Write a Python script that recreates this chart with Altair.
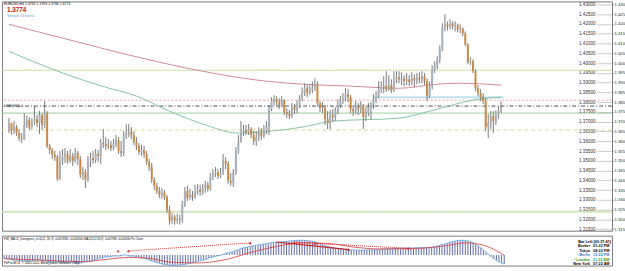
import json
import altair as alt
import pandas as pd

# ---------------- data ----------------
first_open = 1.3652
closes = [
    1.3693, 1.3652, 1.3672, 1.3642, 1.3616, 1.3611, 1.3683, 1.3708, 1.3672, 1.3698,
    1.3713, 1.3693, 1.3734, 1.3683, 1.3744, 1.3576, 1.3555, 1.3530, 1.3519, 1.3407,
    1.3499, 1.3525, 1.3535, 1.3499, 1.3525, 1.3499, 1.3540, 1.3509, 1.3428, 1.3443,
    1.3402, 1.3499, 1.3514, 1.3504, 1.3535, 1.3525, 1.3591, 1.3586, 1.3576, 1.3581,
    1.3565, 1.3586, 1.3606, 1.3550, 1.3540, 1.3627, 1.3642, 1.3647, 1.3632, 1.3596,
    1.3576, 1.3545, 1.3555, 1.3535, 1.3494, 1.3468, 1.3402, 1.3372, 1.3346, 1.3326,
    1.3336, 1.3315, 1.3249, 1.3193, 1.3213, 1.3193, 1.3203, 1.3198, 1.3275, 1.3346,
    1.3310, 1.3326, 1.3315, 1.3341, 1.3351, 1.3341, 1.3361, 1.3377, 1.3356, 1.3417,
    1.3433, 1.3443, 1.3423, 1.3438, 1.3499, 1.3484, 1.3397, 1.3387, 1.3438, 1.3550,
    1.3601, 1.3647, 1.3657, 1.3647, 1.3662, 1.3632, 1.3601, 1.3621, 1.3642, 1.3627,
    1.3652, 1.3672, 1.3764, 1.3805, 1.3815, 1.3800, 1.3785, 1.3810, 1.3749, 1.3739,
    1.3729, 1.3774, 1.3759, 1.3785, 1.3820, 1.3851, 1.3871, 1.3846, 1.3866, 1.3876,
    1.3892, 1.3795, 1.3769, 1.3774, 1.3713, 1.3693, 1.3734, 1.3723, 1.3754, 1.3785,
    1.3805, 1.3820, 1.3841, 1.3825, 1.3764, 1.3754, 1.3774, 1.3764, 1.3785, 1.3723,
    1.3744, 1.3774, 1.3785, 1.3815, 1.3831, 1.3866, 1.3876, 1.3882, 1.3866, 1.3887,
    1.3861, 1.3912, 1.3927, 1.3917, 1.3922, 1.3907, 1.3917, 1.3902, 1.3922, 1.3912,
    1.3927, 1.3917, 1.3933, 1.3907, 1.3831, 1.3882, 1.3968, 1.3984, 1.4019, 1.4070,
    1.4177, 1.4198, 1.4188, 1.4203, 1.4188, 1.4193, 1.4172, 1.4177, 1.4152, 1.4096,
    1.4004, 1.4009, 1.3958, 1.3871, 1.3846, 1.3825, 1.3805, 1.3672, 1.3693, 1.3729,
    1.3703, 1.3734, 1.3754, 1.3774,
]
highs = [
    1.3718, 1.3678, 1.3703, 1.3683, 1.3662, 1.3642, 1.3744, 1.3729, 1.3723, 1.3718,
    1.3780, 1.3734, 1.3754, 1.3744, 1.3805, 1.3754, 1.3586, 1.3565, 1.3550, 1.3530,
    1.3550, 1.3560, 1.3565, 1.3550, 1.3560, 1.3540, 1.3565, 1.3550, 1.3525, 1.3468,
    1.3458, 1.3525, 1.3540, 1.3550, 1.3560, 1.3555, 1.3611, 1.3662, 1.3621, 1.3611,
    1.3601, 1.3611, 1.3632, 1.3621, 1.3601, 1.3652, 1.3688, 1.3688, 1.3672, 1.3652,
    1.3621, 1.3591, 1.3581, 1.3576, 1.3550, 1.3509, 1.3489, 1.3417, 1.3387, 1.3366,
    1.3361, 1.3351, 1.3326, 1.3270, 1.3234, 1.3224, 1.3229, 1.3224, 1.3295, 1.3366,
    1.3372, 1.3356, 1.3346, 1.3377, 1.3382, 1.3377, 1.3382, 1.3397, 1.3392, 1.3438,
    1.3458, 1.3468, 1.3458, 1.3463, 1.3535, 1.3519, 1.3499, 1.3438, 1.3458, 1.3570,
    1.3632, 1.3703, 1.3683, 1.3683, 1.3688, 1.3672, 1.3652, 1.3652, 1.3672, 1.3667,
    1.3683, 1.3703, 1.3785, 1.3825, 1.3836, 1.3831, 1.3820, 1.3831, 1.3815, 1.3769,
    1.3759, 1.3795, 1.3790, 1.3810, 1.3836, 1.3876, 1.3897, 1.3887, 1.3887, 1.3907,
    1.3922, 1.3907, 1.3805, 1.3800, 1.3785, 1.3754, 1.3759, 1.3764, 1.3774, 1.3815,
    1.3831, 1.3846, 1.3871, 1.3866, 1.3836, 1.3785, 1.3805, 1.3795, 1.3805, 1.3790,
    1.3774, 1.3795, 1.3800, 1.3841, 1.3856, 1.3907, 1.3907, 1.3933, 1.3958, 1.3938,
    1.3917, 1.3958, 1.3958, 1.3958, 1.3953, 1.3938, 1.3948, 1.3938, 1.3953, 1.3943,
    1.3948, 1.3953, 1.3958, 1.3948, 1.3922, 1.3907, 1.3989, 1.4009, 1.4035, 1.4091,
    1.4203, 1.4249, 1.4213, 1.4223, 1.4213, 1.4213, 1.4203, 1.4198, 1.4182, 1.4162,
    1.4101, 1.4029, 1.4019, 1.3968, 1.3887, 1.3866, 1.3846, 1.3820, 1.3739, 1.3754,
    1.3754, 1.3759, 1.3780, 1.3805,
]
lows = [
    1.3642, 1.3632, 1.3637, 1.3627, 1.3601, 1.3591, 1.3606, 1.3667, 1.3657, 1.3662,
    1.3683, 1.3672, 1.3637, 1.3657, 1.3667, 1.3565, 1.3535, 1.3509, 1.3499, 1.3397,
    1.3402, 1.3479, 1.3489, 1.3484, 1.3489, 1.3474, 1.3489, 1.3479, 1.3412, 1.3402,
    1.3361, 1.3392, 1.3468, 1.3484, 1.3489, 1.3494, 1.3484, 1.3565, 1.3555, 1.3560,
    1.3550, 1.3555, 1.3570, 1.3535, 1.3519, 1.3525, 1.3611, 1.3621, 1.3611, 1.3581,
    1.3555, 1.3530, 1.3525, 1.3514, 1.3479, 1.3448, 1.3387, 1.3351, 1.3331, 1.3310,
    1.3305, 1.3300, 1.3234, 1.3173, 1.3178, 1.3173, 1.3178, 1.3173, 1.3183, 1.3264,
    1.3295, 1.3300, 1.3295, 1.3305, 1.3326, 1.3321, 1.3326, 1.3336, 1.3341, 1.3346,
    1.3402, 1.3417, 1.3407, 1.3412, 1.3428, 1.3458, 1.3382, 1.3372, 1.3366, 1.3428,
    1.3535, 1.3591, 1.3627, 1.3632, 1.3632, 1.3616, 1.3581, 1.3576, 1.3601, 1.3606,
    1.3616, 1.3637, 1.3632, 1.3754, 1.3785, 1.3785, 1.3764, 1.3774, 1.3734, 1.3718,
    1.3713, 1.3718, 1.3739, 1.3744, 1.3769, 1.3805, 1.3831, 1.3825, 1.3836, 1.3846,
    1.3856, 1.3780, 1.3749, 1.3744, 1.3683, 1.3662, 1.3662, 1.3698, 1.3703, 1.3739,
    1.3769, 1.3790, 1.3805, 1.3800, 1.3744, 1.3729, 1.3739, 1.3734, 1.3744, 1.3662,
    1.3703, 1.3729, 1.3713, 1.3764, 1.3795, 1.3820, 1.3846, 1.3846, 1.3851, 1.3856,
    1.3846, 1.3851, 1.3897, 1.3897, 1.3887, 1.3882, 1.3887, 1.3882, 1.3887, 1.3876,
    1.3892, 1.3897, 1.3897, 1.3887, 1.3805, 1.3820, 1.3866, 1.3948, 1.3968, 1.3999,
    1.4060, 1.4162, 1.4167, 1.4172, 1.4172, 1.4162, 1.4157, 1.4152, 1.4137, 1.4086,
    1.3994, 1.3989, 1.3948, 1.3856, 1.3831, 1.3805, 1.3790, 1.3652, 1.3616, 1.3662,
    1.3642, 1.3683, 1.3713, 1.3744,
]

red_ma_bar = [0, 26, 49, 76, 101, 115, 134, 153, 168, 176, 193]
red_ma_val = [1.4198, 1.4111, 1.4035, 1.3958, 1.3907, 1.3892, 1.3882, 1.3871, 1.3892, 1.3897, 1.3887]
green_ma_bar = [0, 15, 28, 38, 50, 63, 76, 90, 103, 115, 127, 153, 165, 184, 193]
green_ma_val = [1.4060, 1.3979, 1.3917, 1.3876, 1.3831, 1.3754, 1.3688, 1.3642, 1.3652, 1.3672,
                1.3703, 1.3718, 1.3754, 1.3815, 1.3825]

level_prices = [1.3963, 1.3810, 1.3780, 1.3744, 1.3657, 1.3239]
level_colors = ["#c6dc9c", "#eea4a4", "#4a4a66", "#94ca94", "#dada94", "#d2e6c0"]
level_dashes = [[1, 0], [2, 2], [4, 2, 1, 2], [1, 0], [4, 3], [1, 0]]
level_widths = [1, 1, 1, 1, 1, 2]
level_tag = "LMAS(H1)Lvl"

zone_bars = [143, 194]
zone_price = 1.3825

price_ticks = [1.430, 1.425, 1.420, 1.415, 1.410, 1.405, 1.400, 1.395, 1.390, 1.385, 1.380, 1.375,
               1.370, 1.365, 1.360, 1.355, 1.350, 1.345, 1.340, 1.335, 1.330, 1.325, 1.320, 1.315]

time_tick_bars = [0, 8, 16, 24, 32, 40, 48, 56, 64, 72, 80, 88, 96, 104, 112, 120, 128, 136,
                  144, 152, 160, 168, 176, 184, 192]
time_labels = ["19 Sep 2011", "20 Sep 16:00", "22 Sep 00:00", "23 Sep 08:00", "26 Sep 16:00",
               "28 Sep 00:00", "29 Sep 08:00", "30 Sep 16:00", "4 Oct 00:00", "5 Oct 08:00",
               "6 Oct 16:00", "10 Oct 00:00", "11 Oct 08:00", "12 Oct 16:00", "14 Oct 00:00",
               "17 Oct 08:00", "18 Oct 16:00", "20 Oct 00:00", "21 Oct 08:00", "24 Oct 16:00",
               "26 Oct 00:00", "27 Oct 08:00", "28 Oct 16:00", "1 Nov 00:00", "2 Nov 08:00"]

macd_hist = [
    -0.0025, -0.0033, -0.0033, -0.0041, -0.0041, -0.0041, -0.0049, -0.0049,
    -0.0049, -0.0049, -0.0049, -0.0049, -0.0041, -0.0041, -0.0041, -0.0049, -0.0049, -0.0057, -0.0057, -0.0057, -0.0057, -0.0057, -0.0057,
    -0.0057, -0.0057, -0.0057, -0.0057, -0.0057, -0.0066, -0.0066, -0.0066, -0.0057, -0.0057, -0.0049, -0.0049, -0.0041, -0.0033, -0.0025,
    -0.0025, -0.0016, -0.0016, -0.0016, -0.0008, -0.0008, -0.0008, -0.0008, 0.0, 0.0, -0.0008, -0.0008, -0.0008, -0.0016, -0.0016,
    -0.0025, -0.0025, -0.0033, -0.0041, -0.0049, -0.0057, -0.0062, -0.0068, -0.0074, -0.0078, -0.0082, -0.0085, -0.0086, -0.0086, -0.0085,
    -0.0082, -0.0080, -0.0076, -0.0072, -0.0068, -0.0062, -0.0057, -0.0049, -0.0045, -0.0041, -0.0033, -0.0025, -0.0020, -0.0016, -0.0008,
    -0.0005, 0.0, 0.0008, 0.0016, 0.0018, 0.0025, 0.0033, 0.0041, 0.0049, 0.0057, 0.0062, 0.0066, 0.0072, 0.0074, 0.0080,
    0.0082, 0.0086, 0.0090, 0.0092, 0.0096, 0.0100, 0.0102, 0.0104, 0.0106, 0.0108, 0.0110, 0.0112, 0.0114, 0.0116, 0.0118,
    0.0120, 0.0121, 0.0122, 0.0120, 0.0118, 0.0115, 0.0112, 0.0108, 0.0100, 0.0092, 0.0084, 0.0076, 0.0070, 0.0064, 0.0060,
    0.0056, 0.0052, 0.0050, 0.0046, 0.0044, 0.0042, 0.0042, 0.0041, 0.0041, 0.0040, 0.0040, 0.0041, 0.0041, 0.0042, 0.0042,
    0.0043, 0.0044, 0.0045, 0.0047, 0.0048, 0.0050, 0.0050, 0.0051, 0.0053, 0.0055, 0.0056, 0.0057, 0.0057, 0.0058, 0.0058,
    0.0058, 0.0059, 0.0059, 0.0060, 0.0060, 0.0061, 0.0062, 0.0064, 0.0068, 0.0072, 0.0078, 0.0084, 0.0090, 0.0097, 0.0104,
    0.0110, 0.0114, 0.0118, 0.0120, 0.0121, 0.0120, 0.0116, 0.0110, 0.0100, 0.0088, 0.0074, 0.0058, 0.0040, 0.0022, 0.0004,
    -0.0014, -0.0030, -0.0044, -0.0056, -0.0066, -0.0075,
]
signal_bar = [0, 18, 30, 40, 48, 55, 65, 75, 85, 95, 105, 115, 125, 135, 145, 160, 170, 178, 185, 190, 193]
signal_val = [-0.0030, -0.0045, -0.0055, -0.0035, -0.0020, -0.0025, -0.0060, -0.0065, -0.0040, 0.0020,
              0.0070, 0.0100, 0.0095, 0.0065, 0.0050, 0.0055, 0.0075, 0.0100, 0.0080, 0.0035, -0.0002]
marker_bar = [44, 48, 95, 112, 120, 133, 156]
marker_val = [0.0033, 0.0033, 0.0100, 0.0105, 0.0095, 0.0045, 0.0055]
div_seg = ["a", "a", "b", "b"]
div_bar = [48, 95, 112, 156]
div_val = [0.0033, 0.0100, 0.0105, 0.0055]
solid_div_bar = [105, 133]
solid_div_val = [0.0107, 0.0045]

header_text = "EURUSD,H4  1.3782 1.3783 1.3768 1.3774"
price_text = "1.3774"
spread_text = "Spread: 16 points."
macd_title = ("FiW_MACD_Divergence_v1.0(12, 26, 9) -0.0074965 -0.0002000  "
              "MACD(12,26,9) -0.007396 -0.000200  Prc Close")
copyright_text = "FxPro MT4, \u00a9 2001-2011 MetaQuotes Software Corp."
info_names = ["Broker", "Tokyo", "\u2022 Berlin", "\u2022 London", "New York"]
info_times = ["01:22 PM", "08:22 PM", "12:22 PM", "11:22 AM", "07:22 AM"]
info_colors = ["#000000", "#000000", "#3a78c8", "#2ca02c", "#000000"]
bar_left_text = "Bar Left [03:37:41]"

# ---------------- tables ----------------
opens = [first_open] + closes[:-1]
df = pd.DataFrame({"i": list(range(len(closes))), "open": opens, "close": closes,
                   "high": highs, "low": lows})
df["high"] = df[["high", "open", "close"]].max(axis=1)
df["low"] = df[["low", "open", "close"]].min(axis=1)

mdf = pd.DataFrame({"i": list(range(len(macd_hist))), "hist": macd_hist})
mdf["zero"] = 0.0

FONT = "Liberation Sans"
W = 612
xs = alt.Scale(domain=[-0.77, 234.6], nice=False, zero=False)
ys = alt.Scale(domain=[1.31423, 1.43153], nice=False, zero=False)
ms = alt.Scale(domain=[-0.0087, 0.0159], nice=False, zero=False)
X = alt.X("i:Q", scale=xs, axis=None)

# ---------------- main price panel ----------------
layers = []
for k, (p, c, d, w) in enumerate(zip(level_prices, level_colors, level_dashes, level_widths)):
    ax = None
    if k == 0:
        ax = alt.Axis(orient="right", offset=-15, values=price_ticks, format=".5f",
                      tickSize=15, tickDash=[1, 1], tickColor="#9a9a9a", tickWidth=1,
                      labelAlign="right", labelPadding=-17, labelFontSize=4.6, labelFont=FONT,
                      labelColor="#333333", domain=False, grid=False, title=None,
                      labelFlush=False, labelOverlap=False)
    layers.append(
        alt.Chart(pd.DataFrame({"p": [p]})).mark_rule(color=c, strokeDash=d, strokeWidth=w)
        .encode(y=alt.Y("p:Q", scale=ys, axis=ax))
    )

zone = alt.Chart(pd.DataFrame({"a": [zone_bars[0]], "b": [zone_bars[1]], "p": [zone_price]})) \
    .mark_rule(color="#bfe0ee", strokeWidth=2) \
    .encode(x=alt.X("a:Q", scale=xs, axis=None), x2="b:Q", y=alt.Y("p:Q", scale=ys, axis=None))

red_ma = alt.Chart(pd.DataFrame({"i": red_ma_bar, "v": red_ma_val})) \
    .mark_line(color="#d48a94", strokeWidth=1, interpolate="monotone") \
    .encode(x=X, y=alt.Y("v:Q", scale=ys, axis=None))
green_ma = alt.Chart(pd.DataFrame({"i": green_ma_bar, "v": green_ma_val})) \
    .mark_line(color="#86c4a4", strokeWidth=1, interpolate="monotone") \
    .encode(x=X, y=alt.Y("v:Q", scale=ys, axis=None))

# outside price scale, cut at the window edge as in the reference
wick = alt.Chart(df).mark_rule(color="#7a7a7a", strokeWidth=1).encode(
    x=X,
    y=alt.Y("low:Q", scale=ys, axis=alt.Axis(orient="right", values=price_ticks,
                                               labelExpr="slice(format(datum.value, '.5f'), 0, 5)",
                                               labelFontSize=4.2, labelFont=FONT, tickSize=1,
                                               labelPadding=1, domain=False, grid=False,
                                               title=None, labelColor="#222222",
                                               tickColor="#666666", labelFlush=False,
                                               labelOverlap=False)),
    y2="high:Q",
)
body = alt.Chart(df).mark_bar(size=2, orient="vertical").encode(
    x=X,
    y=alt.Y("open:Q", scale=ys, axis=None),
    y2="close:Q",
    color=alt.condition("datum.close >= datum.open", alt.value("#a7afbb"), alt.value("#c98a45")),
)

tag = alt.Chart(pd.DataFrame({"p": [level_prices[2]], "t": [level_tag]})) \
    .mark_text(align="left", baseline="middle", fontSize=3.2, font=FONT, color="#333333") \
    .encode(x=alt.value(2), y=alt.Y("p:Q", scale=ys, axis=None), text="t:N")

hdr = alt.Chart(pd.DataFrame({"t": [header_text]})).mark_text(
    align="left", baseline="top", fontSize=3.5, font=FONT, color="#000000"
).encode(x=alt.value(2), y=alt.value(0.8), text="t:N")
big = alt.Chart(pd.DataFrame({"t": [price_text]})).mark_text(
    align="left", baseline="top", fontSize=6.3, font=FONT, fontWeight="bold", color="#cc1111"
).encode(x=alt.value(5), y=alt.value(5.6), text="t:N")
spr = alt.Chart(pd.DataFrame({"t": [spread_text]})).mark_text(
    align="left", baseline="top", fontSize=3.5, font=FONT, color="#5f98d2"
).encode(x=alt.value(5), y=alt.value(12.5), text="t:N")

main = alt.layer(*layers, zone, red_ma, green_ma, wick, body, tag, hdr, big, spr) \
    .resolve_axis(y="independent") \
    .properties(width=W, height=230)

# ---------------- MACD panel ----------------
label_expr = json.dumps(time_labels) + "[round(datum.value / 8)]"
hist = alt.Chart(mdf).mark_rule(color="#3a4898", strokeWidth=0.8).encode(
    x=alt.X("i:Q", scale=xs, axis=alt.Axis(values=time_tick_bars, labelExpr=label_expr,
                                           labelAlign="left", labelFontSize=3.3, labelFont=FONT,
                                           tickSize=2, labelPadding=1, domain=False, grid=False,
                                           title=None, labelColor="#000000", tickColor="#000000",
                                           labelOverlap=False, labelFlush=False)),
    y=alt.Y("hist:Q", scale=ms, axis=alt.Axis(orient="right", values=[0.0159, -0.0087],
                                              labelExpr="slice(format(datum.value, '.4f'), 0, 5)",
                                              labelFontSize=4.0, labelFont=FONT,
                                              tickSize=1, labelPadding=1, domain=False,
                                              grid=False, title=None, labelColor="#222222",
                                              labelFlush=False, labelOverlap=False)),
    y2="zero:Q",
)
blue_line = alt.Chart(mdf).mark_line(color="#7ab0e6", strokeWidth=1).encode(
    x=alt.X("i:Q", scale=xs, axis=None), y=alt.Y("hist:Q", scale=ms, axis=None))
signal = alt.Chart(pd.DataFrame({"i": signal_bar, "v": signal_val})).mark_line(
    color="#d83a3a", strokeWidth=0.8, interpolate="monotone"
).encode(x=alt.X("i:Q", scale=xs, axis=None), y=alt.Y("v:Q", scale=ms, axis=None))
div_dotted = alt.Chart(pd.DataFrame({"s": div_seg, "i": div_bar, "v": div_val})).mark_line(
    color="#d83a3a", strokeWidth=1, strokeDash=[1, 1]
).encode(x=alt.X("i:Q", scale=xs, axis=None), y=alt.Y("v:Q", scale=ms, axis=None), detail="s:N")
div_solid = alt.Chart(pd.DataFrame({"i": solid_div_bar, "v": solid_div_val})).mark_line(
    color="#c42020", strokeWidth=1.2
).encode(x=alt.X("i:Q", scale=xs, axis=None), y=alt.Y("v:Q", scale=ms, axis=None))
markers = alt.Chart(pd.DataFrame({"i": marker_bar, "v": marker_val})).mark_point(
    shape="triangle-up", filled=True, color="#d02020", size=9, opacity=1
).encode(x=alt.X("i:Q", scale=xs, axis=None), y=alt.Y("v:Q", scale=ms, axis=None))

mtitle = alt.Chart(pd.DataFrame({"t": [macd_title]})).mark_text(
    align="left", baseline="top", fontSize=2.8, font=FONT, color="#000000"
).encode(x=alt.value(2), y=alt.value(2), text="t:N")
mcopy = alt.Chart(pd.DataFrame({"t": [copyright_text]})).mark_text(
    align="left", baseline="bottom", fontSize=3.2, font=FONT, color="#000000"
).encode(x=alt.value(2), y=alt.value(29.5), text="t:N")

info = [alt.Chart(pd.DataFrame({"t": [bar_left_text]})).mark_text(
    align="right", baseline="middle", fontSize=3.8, font=FONT, fontWeight="bold", color="#000000"
).encode(x=alt.value(611), y=alt.value(6), text="t:N")]
for r, (nm, tm, col) in enumerate(zip(info_names, info_times, info_colors)):
    yy = 10.5 + 4.5 * r
    info.append(alt.Chart(pd.DataFrame({"t": [nm]})).mark_text(
        align="right", baseline="middle", fontSize=3.8, font=FONT, fontWeight="bold", color=col
    ).encode(x=alt.value(590), y=alt.value(yy), text="t:N"))
    info.append(alt.Chart(pd.DataFrame({"t": [tm]})).mark_text(
        align="left", baseline="middle", fontSize=3.8, font=FONT, fontWeight="bold", color=col
    ).encode(x=alt.value(593), y=alt.value(yy), text="t:N"))

macd = alt.layer(hist, blue_line, signal, div_dotted, div_solid, markers, mtitle, mcopy, *info) \
    .properties(width=W, height=30)

chart = alt.vconcat(main, macd, spacing=2).properties(padding=0, background="#ffffff") \
    .configure_view(stroke="#7c7c7c", strokeWidth=1, fill="#ffffff")

chart.save("out.html", embed_options={"renderer": "svg", "actions": False})
